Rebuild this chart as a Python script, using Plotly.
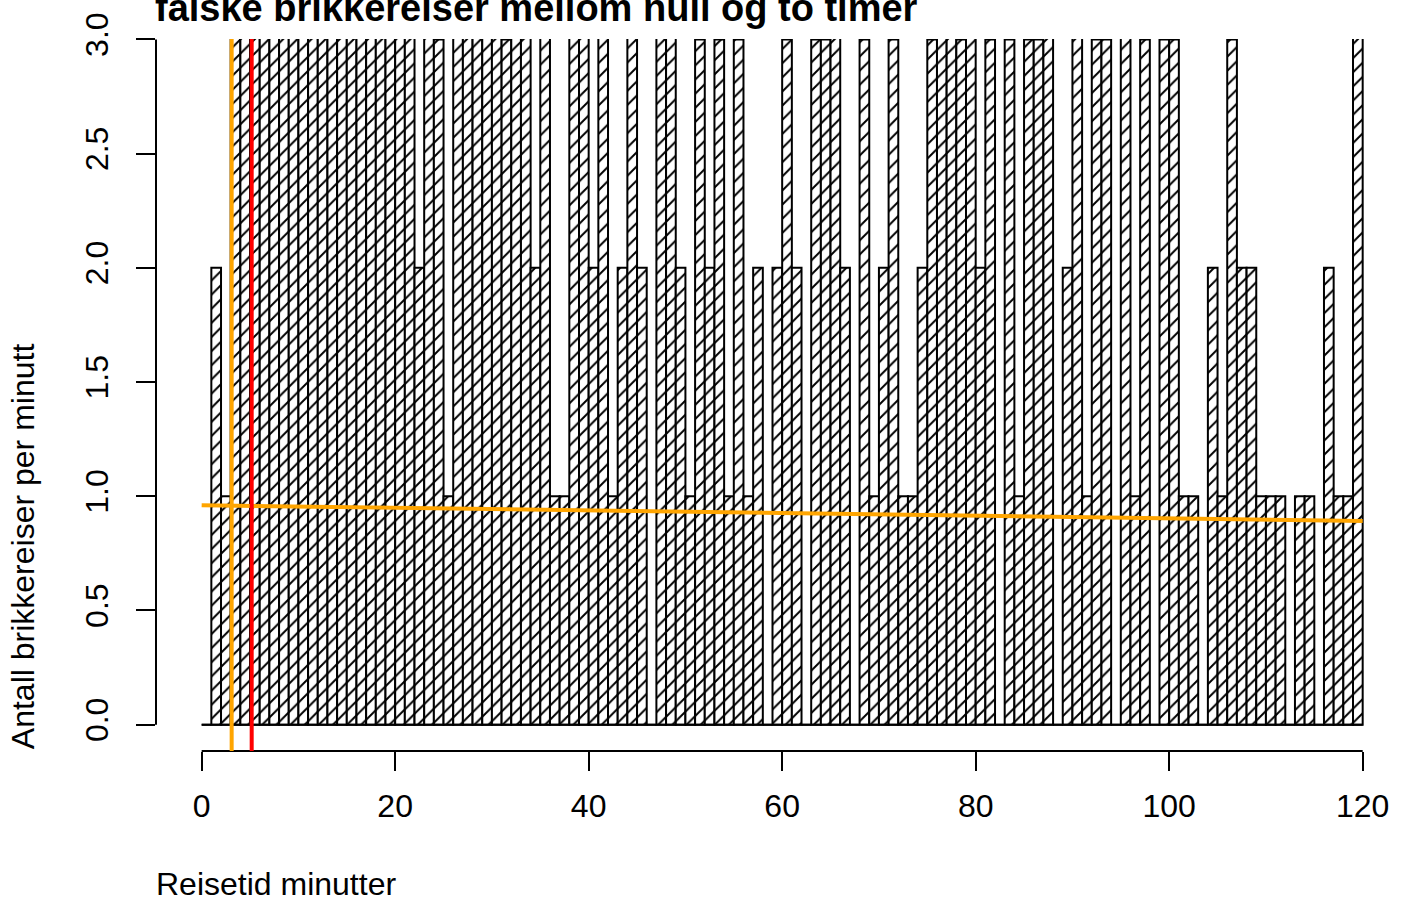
import plotly.graph_objects as go

# One-minute bins (centres) and number of trips per minute.
# Values above 3 run off the visible scale of the reference and are shown clipped.
minutes = [i + 0.5 for i in range(120)]
counts = [
    0, 2, 1, 4, 4, 4, 4, 4, 4, 4,
    4, 4, 4, 4, 4, 4, 4, 4, 4, 4,
    4, 4, 2, 4, 3, 1, 4, 4, 4, 4,
    4, 3, 4, 4, 2, 4, 1, 1, 4, 4,
    2, 4, 1, 2, 4, 2, 0, 4, 4, 2,
    1, 3, 2, 3, 1, 3, 1, 2, 0, 2,
    3, 2, 0, 3, 3, 4, 2, 0, 3, 1,
    2, 3, 1, 1, 2, 3, 4, 4, 3, 4,
    2, 3, 0, 3, 1, 3, 3, 4, 0, 2,
    4, 1, 3, 3, 0, 4, 1, 3, 0, 3,
    3, 1, 1, 0, 2, 1, 3, 2, 2, 1,
    1, 1, 0, 1, 1, 0, 2, 1, 1, 4,
]

# Reference lines
trend_x = [0, 120]
trend_y = [0.961, 0.892]
orange_vline = 3.1
red_vline = 5.17

x_ticks = [0, 20, 40, 60, 80, 100, 120]
y_ticks = [0.0, 0.5, 1.0, 1.5, 2.0, 2.5, 3.0]
y_ticklabels = ["0.0", "0.5", "1.0", "1.5", "2.0", "2.5", "3.0"]

title = "falske brikkereiser mellom null og to timer"
xlab = "Reisetid minutter"
ylab = "Antall brikkereiser per minutt"

FONT = "Liberation Sans, Arial, Helvetica, sans-serif"

fig = go.Figure()
fig.add_trace(go.Bar(
    x=minutes, y=counts, width=1,
    marker=dict(color="white", line=dict(color="black", width=2),
                pattern=dict(shape="/", fgcolor="black", bgcolor="white",
                             size=10, solidity=0.2, fillmode="replace")),
    hoverinfo="skip", showlegend=False,
))
fig.add_trace(go.Scatter(x=trend_x, y=trend_y, mode="lines",
                         line=dict(color="#FFA500", width=4),
                         hoverinfo="skip", showlegend=False))

shapes = [
    # histogram baseline (also shows empty bins)
    dict(type="line", xref="x", yref="y", x0=0, x1=120, y0=0, y1=0,
         line=dict(color="black", width=2)),
    # R-style axis lines spanning the tick range only
    dict(type="line", xref="x", yref="paper", x0=0, x1=120, y0=0, y1=0,
         line=dict(color="black", width=2)),
    dict(type="line", xref="paper", yref="y", x0=0, x1=0, y0=0, y1=3,
         line=dict(color="black", width=2)),
    dict(type="line", xref="x", yref="paper", x0=orange_vline, x1=orange_vline, y0=0, y1=1,
         line=dict(color="#FFA500", width=4)),
    dict(type="line", xref="x", yref="paper", x0=red_vline, x1=red_vline, y0=0, y1=1,
         line=dict(color="#FF0000", width=4)),
]

annotations = [
    dict(text="<b>" + title + "</b>", xref="paper", yref="paper", x=-0.0025, y=1.0111,
         xanchor="left", yanchor="bottom", showarrow=False,
         font=dict(family=FONT, size=38, color="black")),
    dict(text=xlab, xref="paper", yref="paper", x=-0.0017, y=-0.1593,
         xanchor="left", yanchor="top", showarrow=False,
         font=dict(family=FONT, size=32, color="black")),
    dict(text=ylab, xref="paper", yref="paper", x=-0.1085, y=0.0,
         xanchor="center", yanchor="bottom", showarrow=False, textangle=-90,
         font=dict(family=FONT, size=32, color="black")),
]

fig.update_layout(
    width=1405, height=900,
    margin=dict(l=156, r=25, t=29, b=149, pad=0),
    paper_bgcolor="white", plot_bgcolor="white", bargap=0,
    shapes=shapes, annotations=annotations,
    font=dict(family=FONT, size=32, color="black"),
    xaxis=dict(range=[-4.72, 121.79], showgrid=False, zeroline=False, showline=False,
               tickmode="array", tickvals=x_ticks, ticks="outside", ticklen=19,
               tickwidth=2, tickcolor="black", tickfont=dict(family=FONT, size=32),
               ticklabelstandoff=8),
    yaxis=dict(range=[-0.1153, 3.002], showgrid=False, zeroline=False, showline=False,
               tickmode="array", tickvals=y_ticks, ticktext=y_ticklabels,
               ticks="outside", ticklen=19, tickwidth=2, tickcolor="black",
               tickangle=-90, tickfont=dict(family=FONT, size=32), ticklabelstandoff=15),
)

fig.write_html("out.html", config={"displayModeBar": False, "staticPlot": True},
               post_script="document.body.style.margin='0';document.body.style.padding='0';"
                           "document.documentElement.style.overflow='hidden';")
